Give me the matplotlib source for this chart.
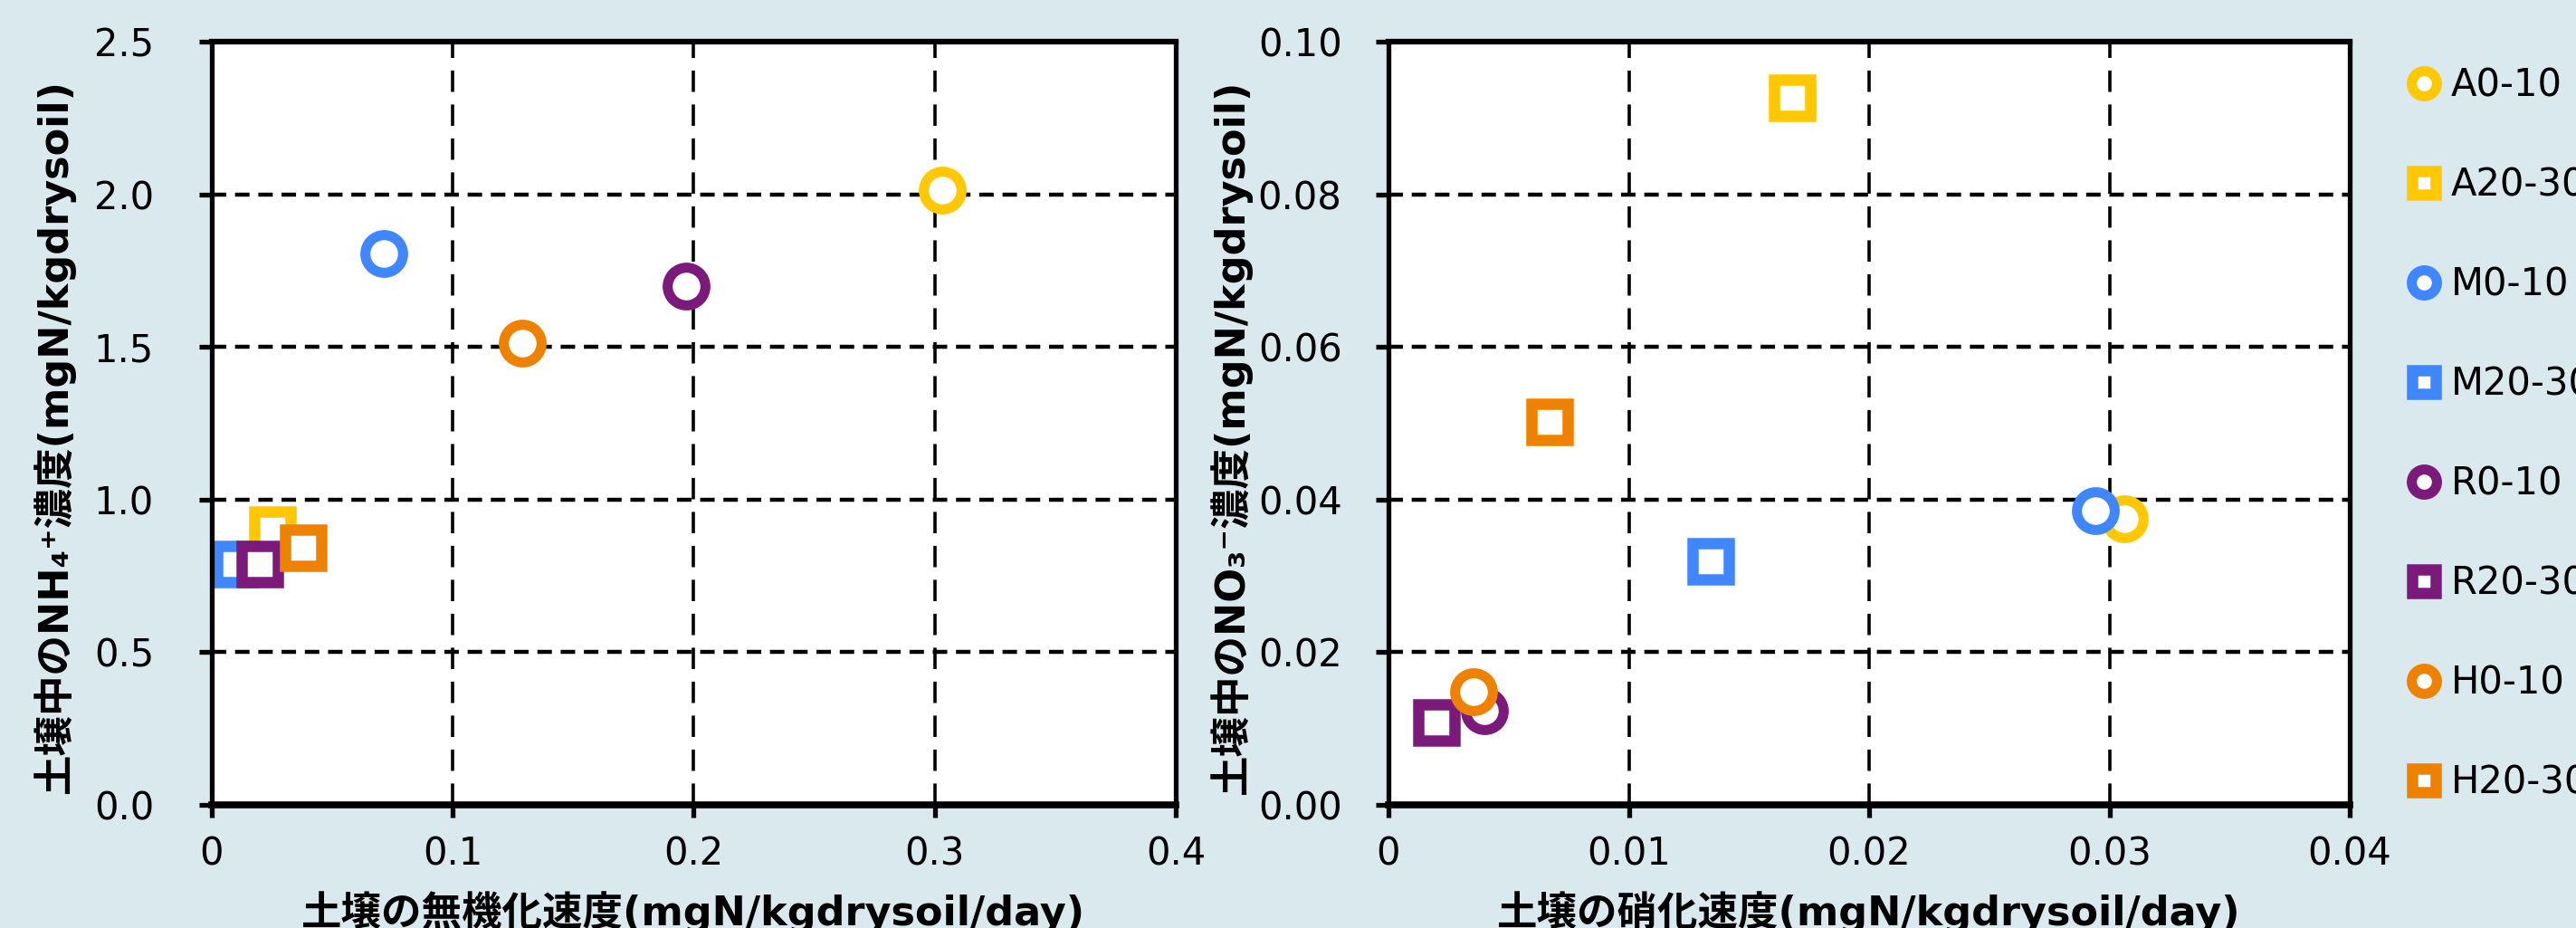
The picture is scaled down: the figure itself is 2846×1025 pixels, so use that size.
"""土壌の無機化・硝化速度と無機態窒素濃度の散布図（2 パネル）。"""
import matplotlib
matplotlib.use("Agg")
import matplotlib.pyplot as plt
from matplotlib.lines import Line2D
from matplotlib.ticker import FormatStrFormatter, FixedLocator

plt.rcParams["font.family"] = ["DejaVu Sans", "Noto Sans CJK JP"]
plt.rcParams["lines.scale_dashes"] = False

BG = "#d9e9ee"

# 地点・深さごとの系列
labels = ["A0-10", "A20-30", "M0-10", "M20-30", "R0-10", "R20-30", "H0-10", "H20-30"]
colors = ["#ffc800", "#ffc800", "#3f86ff", "#3f86ff", "#7b1a7a", "#7b1a7a", "#ee8200", "#ee8200"]
markers = ["o", "s", "o", "s", "o", "s", "o", "s"]

# 左：無機化速度 vs NH4+
mineral_rate = [0.303, 0.025, 0.0715, 0.0098, 0.197, 0.020, 0.129, 0.038]
nh4 = [2.015, 0.903, 1.805, 0.79, 1.70, 0.79, 1.513, 0.841]

# 右：硝化速度 vs NO3-
nitrif_rate = [0.0306, 0.0168, 0.0294, 0.0134, 0.0040, 0.0020, 0.00355, 0.0067]
no3 = [0.0375, 0.0926, 0.0386, 0.0319, 0.0123, 0.0108, 0.0148, 0.0502]

left_xticks = [0, 0.1, 0.2, 0.3, 0.4]
left_xlabels = ["0", "0.1", "0.2", "0.3", "0.4"]
left_yticks = [0.0, 0.5, 1.0, 1.5, 2.0, 2.5]
right_xticks = [0, 0.01, 0.02, 0.03, 0.04]
right_xlabels = ["0", "0.01", "0.02", "0.03", "0.04"]
right_yticks = [0.00, 0.02, 0.04, 0.06, 0.08, 0.10]


def style_axes(ax, xticks, xlabels, yticks, yfmt, ypad):
    ax.set_facecolor("white")
    ax.set_xlim(xticks[0], xticks[-1])
    ax.set_ylim(yticks[0], yticks[-1])
    ax.xaxis.set_major_locator(FixedLocator(xticks))
    ax.set_xticklabels(xlabels)
    ax.yaxis.set_major_locator(FixedLocator(yticks))
    ax.yaxis.set_major_formatter(FormatStrFormatter(yfmt))
    ax.set_axisbelow(True)
    ax.yaxis.grid(True, color="black", lw=3.2, ls=(0, (11.5, 7)))
    ax.xaxis.grid(True, color="black", lw=2.6, ls=(0, (17, 10)))
    for side in ["left", "right"]:
        ax.spines[side].set_linewidth(3.8)
    ax.spines["top"].set_linewidth(4.5)
    ax.spines["bottom"].set_linewidth(5.5)
    ax.tick_params(axis="y", direction="out", length=10, width=3.8,
                   pad=ypad, labelsize=30, right=False)
    ax.tick_params(axis="x", direction="out", length=10, width=3.8,
                   pad=14, labelsize=30, top=False)


fig = plt.figure(figsize=(28.46, 10.25), dpi=100, facecolor=BG)
ax1 = fig.add_axes([0.0822, 0.1327, 0.3742, 0.8224])
ax2 = fig.add_axes([0.5390, 0.1327, 0.3732, 0.8224])

for i in range(len(labels)):
    kw = dict(ls="none", marker=markers[i], mec=colors[i], mfc="white",
              ms=30 if markers[i] == "o" else 29,
              mew=8 if markers[i] == "o" else 9)
    ax1.plot([mineral_rate[i]], [nh4[i]], **kw)
    ax2.plot([nitrif_rate[i]], [no3[i]], **kw)

style_axes(ax1, left_xticks, left_xlabels, left_yticks, "%.1f", 36)
style_axes(ax2, right_xticks, right_xlabels, right_yticks, "%.2f", 27)

ax1.set_xlabel("土壌の無機化速度(mgN/kgdrysoil/day)", fontsize=32, fontweight="bold", va="center")
ax1.xaxis.set_label_coords(0.5, -0.141)
ax1.set_ylabel("土壌中のNH₄⁺濃度(mgN/kgdrysoil)", fontsize=32, fontweight="bold", va="center")
ax1.yaxis.set_label_coords(-0.164, 0.483)

ax2.set_xlabel("土壌の硝化速度(mgN/kgdrysoil/day)", fontsize=32, fontweight="bold", va="center")
ax2.xaxis.set_label_coords(0.5, -0.141)
ax2.set_ylabel("土壌中のNO₃⁻濃度(mgN/kgdrysoil)", fontsize=32, fontweight="bold", va="center")
ax2.yaxis.set_label_coords(-0.164, 0.483)

handles = [Line2D([], [], ls="none", marker=m, mec=c, mfc="white",
                  ms=20 if m == "o" else 19, mew=8 if m == "o" else 9)
           for m, c in zip(markers, colors)]
fig.legend(handles, labels, loc="upper left", bbox_to_anchor=(0.9340, 0.928),
           frameon=False, fontsize=30, labelspacing=1.63, handlelength=0.95,
           handletextpad=0.25, borderpad=0, borderaxespad=0, numpoints=1)

fig.savefig("out.png", dpi=100, facecolor=BG)
